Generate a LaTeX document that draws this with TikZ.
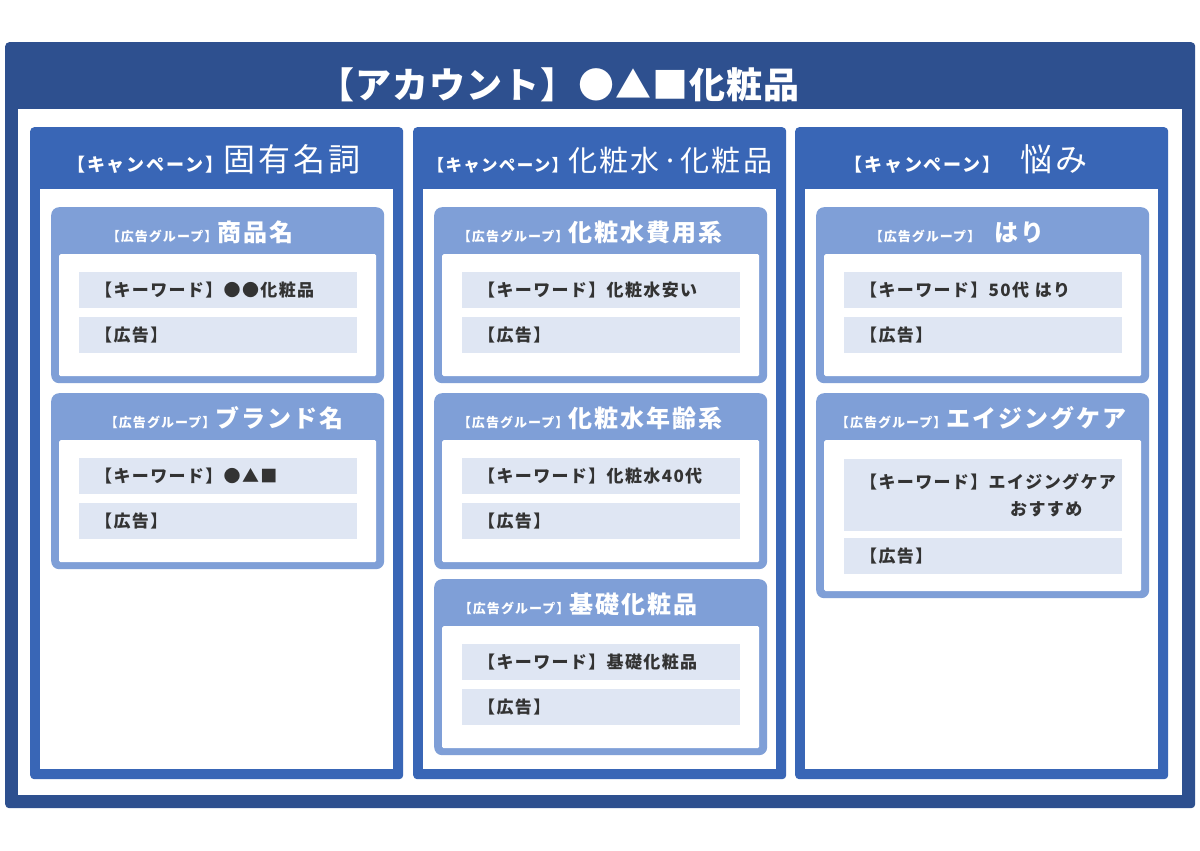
\documentclass[tikz,border=0pt]{standalone}
\usepackage{fontspec}
\setmainfont{Noto Sans CJK JP}[LetterSpace=8]
\usetikzlibrary{positioning}
\definecolor{acctblue}{RGB}{46, 80, 143}
\definecolor{campblue}{RGB}{57, 102, 182}
\definecolor{grpblue}{RGB}{127, 159, 215}
\definecolor{barblue}{RGB}{223, 230, 243}
\definecolor{textgray}{RGB}{51, 51, 51}

\begin{document}
\begin{tikzpicture}[x=1pt, y=-1pt,
  campbox/.style={fill=campblue, rounded corners=4pt, anchor=north west, inner sep=0pt, minimum width=373pt, minimum height=652pt},
  campin/.style={fill=white, anchor=north west, inner sep=0pt, minimum width=353pt, minimum height=580pt},
  camptitle/.style={anchor=base, text=white, inner sep=0pt, font=\fontsize{32}{32}\selectfont\addfontfeatures{LetterSpace=10}},
  grpbox/.style={fill=grpblue, rounded corners=8pt, anchor=north west, inner sep=0pt, minimum width=333pt, minimum height=176pt},
  grpin/.style={fill=white, rounded corners=1.5pt, anchor=north west, inner sep=0pt, minimum width=317pt, minimum height=122pt},
  grptitle/.style={anchor=base, text=white, inner sep=0pt, font=\fontsize{24}{24}\selectfont\bfseries},
  kwbar/.style={fill=barblue, anchor=north west, inner xsep=16pt, inner ysep=0pt, text width=246pt, minimum height=36pt, align=left, text=textgray, font=\fontsize{17}{27}\selectfont\bfseries}]
  \useasboundingbox (0,0) rectangle (1200,851);

  % Account
  \node[fill=acctblue, rounded corners=4pt, anchor=north west, inner sep=0pt, minimum width=1190pt, minimum height=766pt] (acct) at (5,42) {};
  \node[fill=white, anchor=north west, inner sep=0pt, minimum width=1164pt, minimum height=686pt] (acctin) at (18,109) {};
  \node[anchor=base, text=white, inner sep=0pt, font=\fontsize{36}{36}\selectfont\bfseries\addfontfeatures{LetterSpace=3}] (accttitle) at (559,99) {【アカウント】●▲■化粧品};

  % Campaign 1
  \node[campbox] (camp1) at (30,127) {};
  \node[campin] (camp1in) at (40,189) {};
  \node[camptitle] (camp1title) at (214,171) {{\fontsize{18}{18}\selectfont\bfseries 【キャンペーン】}固有名詞};

  \node[grpbox] (grp11) at (51,207) {};
  \node[grpin] (grp11in) at (59,254) {};
  \node[grptitle] (grp11title) at (200,241) {{\fontsize{13}{13}\selectfont 【広告グループ】}商品名};
  \node[kwbar] (kw11) at (79,272) {【キーワード】●●化粧品};
  \node[kwbar] (ad11) at (79,317) {【広告】};

  \node[grpbox] (grp12) at (51,393) {};
  \node[grpin] (grp12in) at (59,440) {};
  \node[grptitle] (grp12title) at (224,427) {{\fontsize{13}{13}\selectfont 【広告グループ】}ブランド名};
  \node[kwbar] (kw12) at (79,458) {【キーワード】●▲■};
  \node[kwbar] (ad12) at (79,503) {【広告】};

  % Campaign 2
  \node[campbox] (camp2) at (413,127) {};
  \node[campin] (camp2in) at (423,189) {};
  \node[camptitle, font=\fontsize{29}{29}\selectfont] (camp2title) at (600,171) {{\fontsize{16.5}{16.5}\selectfont\bfseries 【キャンペーン】}化粧水·化粧品};

  \node[grpbox] (grp21) at (434,207) {};
  \node[grpin] (grp21in) at (442,254) {};
  \node[grptitle] (grp21title) at (590,241) {{\fontsize{13}{13}\selectfont 【広告グループ】}化粧水費用系};
  \node[kwbar] (kw21) at (462,272) {【キーワード】化粧水安い};
  \node[kwbar] (ad21) at (462,317) {【広告】};

  \node[grpbox] (grp22) at (434,393) {};
  \node[grpin] (grp22in) at (442,440) {};
  \node[grptitle] (grp22title) at (590,427) {{\fontsize{13}{13}\selectfont 【広告グループ】}化粧水年齢系};
  \node[kwbar] (kw22) at (462,458) {【キーワード】化粧水40代};
  \node[kwbar] (ad22) at (462,503) {【広告】};

  \node[grpbox] (grp23) at (434,579) {};
  \node[grpin] (grp23in) at (442,626) {};
  \node[grptitle] (grp23title) at (578,613) {{\fontsize{13}{13}\selectfont 【広告グループ】}基礎化粧品};
  \node[kwbar] (kw23) at (462,644) {【キーワード】基礎化粧品};
  \node[kwbar] (ad23) at (462,689) {【広告】};

  % Campaign 3
  \node[campbox] (camp3) at (795,127) {};
  \node[campin] (camp3in) at (805,189) {};
  \node[camptitle] (camp3title) at (966,171) {{\fontsize{18}{18}\selectfont\bfseries 【キャンペーン】　}悩み};

  \node[grpbox] (grp31) at (816,207) {};
  \node[grpin] (grp31in) at (824,254) {};
  \node[grptitle] (grp31title) at (957,241) {{\fontsize{13}{13}\selectfont 【広告グループ】　}はり};
  \node[kwbar] (kw31) at (844,272) {【キーワード】50代 はり};
  \node[kwbar] (ad31) at (844,317) {【広告】};

  \node[grpbox, minimum height=205pt] (grp32) at (816,393) {};
  \node[grpin, minimum height=151pt] (grp32in) at (824,440) {};
  \node[grptitle] (grp32title) at (981,427) {{\fontsize{13}{13}\selectfont 【広告グループ】}エイジングケア};
  \node[kwbar, minimum height=72pt] (kw32) at (844,459) {【キーワード】エイジングケア\\\hspace*{150pt}おすすめ};
  \node[kwbar] (ad32) at (844,538) {【広告】};
\end{tikzpicture}
\end{document}
